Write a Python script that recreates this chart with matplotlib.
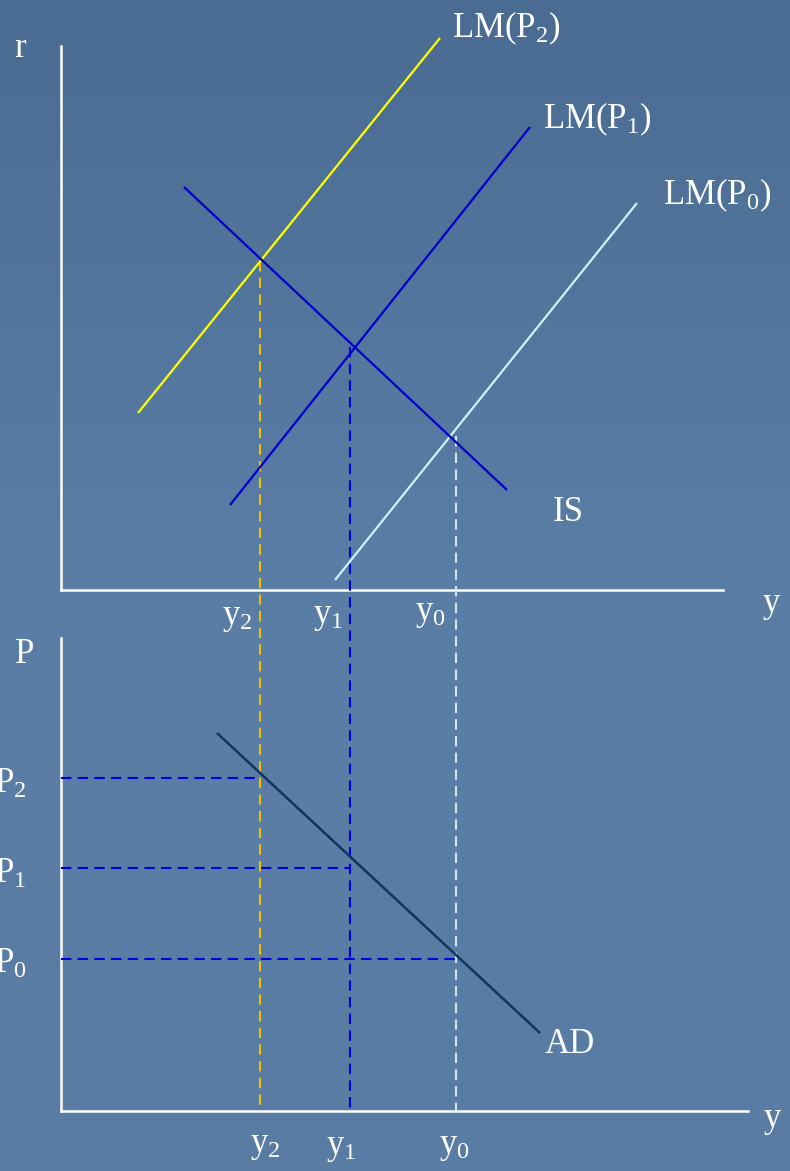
import matplotlib
matplotlib.use("Agg")
import matplotlib.pyplot as plt
import numpy as np
from matplotlib.colors import LinearSegmentedColormap

plt.rcParams["font.family"] = ["Liberation Serif", "DejaVu Serif"]
plt.rcParams["mathtext.fontset"] = "custom"
plt.rcParams["mathtext.rm"] = "Liberation Serif"
plt.rcParams["mathtext.default"] = "rm"

# curve endpoints (x0, y0, x1, y1), pixel units, y down
lm_p2 = [138, 413, 440, 38]
lm_p1 = [230, 505, 530, 127]
lm_p0 = [335, 580, 637, 203]
is_curve = [184, 187, 507, 490]
ad_curve = [217, 733, 540, 1033]

# equilibrium points: output y_i and interest / price levels
y_eq = [456, 350, 260]          # y0, y1, y2
r_eq = [436, 347, 261]
p_eq = [959, 868, 778]          # P0, P1, P2

# axes
top_axis = dict(x0=61, top=46, base=590, right=723)
bot_axis = dict(x0=61, top=638, base=1111, right=748)

bg_top = "#4a6c93"
bg_bot = "#5a7ea6"
c_lm2 = "#ffff00"
c_lm1 = "#0000cc"
c_lm0 = "#ccf2ff"
c_is = "#0000cc"
c_ad = "#0e3462"
c_drop = ["#cfe8f2", "#0000dd", "#f2be00"]

fig = plt.figure(figsize=(7.9, 11.71), dpi=100)
ax = fig.add_axes([0, 0, 1, 1])
ax.set_xlim(0, 790)
ax.set_ylim(1171, 0)
ax.axis("off")

cmap = LinearSegmentedColormap.from_list("bg", [bg_top, bg_bot, "#587ca3"])
grad = np.linspace(0, 1, 256).reshape(-1, 1)
ax.imshow(grad, cmap=cmap, extent=[0, 790, 1171, 0], aspect="auto", zorder=0)

lw_axis = 1.8
for a in (top_axis, bot_axis):
    ax.plot([a["x0"], a["x0"]], [a["top"], a["base"]], color="white", lw=lw_axis, zorder=2)
    ax.plot([a["x0"], a["right"]], [a["base"], a["base"]], color="white", lw=lw_axis, zorder=2)

def seg(s, c, lw=1.6):
    ax.plot([s[0], s[2]], [s[1], s[3]], color=c, lw=lw, zorder=3, solid_capstyle="butt")

seg(lm_p2, c_lm2)
seg(lm_p1, c_lm1)
seg(lm_p0, c_lm0)
seg(is_curve, c_is)
seg(ad_curve, c_ad, lw=1.8)

dash = (0, (5, 3))
for x, r, p, c in zip(y_eq, r_eq, p_eq, c_drop):
    ax.plot([x, x], [r, bot_axis["base"]], color=c, lw=1.5, ls=dash, zorder=2.5)
    ax.plot([bot_axis["x0"], x], [p, p], color=c_drop[1], lw=1.5, ls=dash, zorder=2.5)

fs = 25
txt = dict(color="white", fontsize=fs, ha="left", va="baseline", zorder=5)
ax.text(452, 37, r"LM(P$_2$)", **txt)
ax.text(543, 128, r"LM(P$_1$)", **txt)
ax.text(663, 204, r"LM(P$_0$)", **txt)
ax.text(553, 521, "IS", **txt)
ax.text(545, 1053, "AD", **txt)
ax.text(14, 57, "r", **txt)
ax.text(15, 663, "P", **txt)
ax.text(763, 612, "y", **txt)
ax.text(764, 1127, "y", **txt)

ax.text(222, 624, r"y$_2$", **txt)
ax.text(313, 623, r"y$_1$", **txt)
ax.text(415, 620, r"y$_0$", **txt)
ax.text(250, 1152, r"y$_2$", **txt)
ax.text(326, 1154, r"y$_1$", **txt)
ax.text(439, 1153, r"y$_0$", **txt)

ax.text(-6, 793, r"P$_2$", **txt)
ax.text(-6, 883, r"P$_1$", **txt)
ax.text(-6, 973, r"P$_0$", **txt)

fig.savefig("out.png", dpi=100)
